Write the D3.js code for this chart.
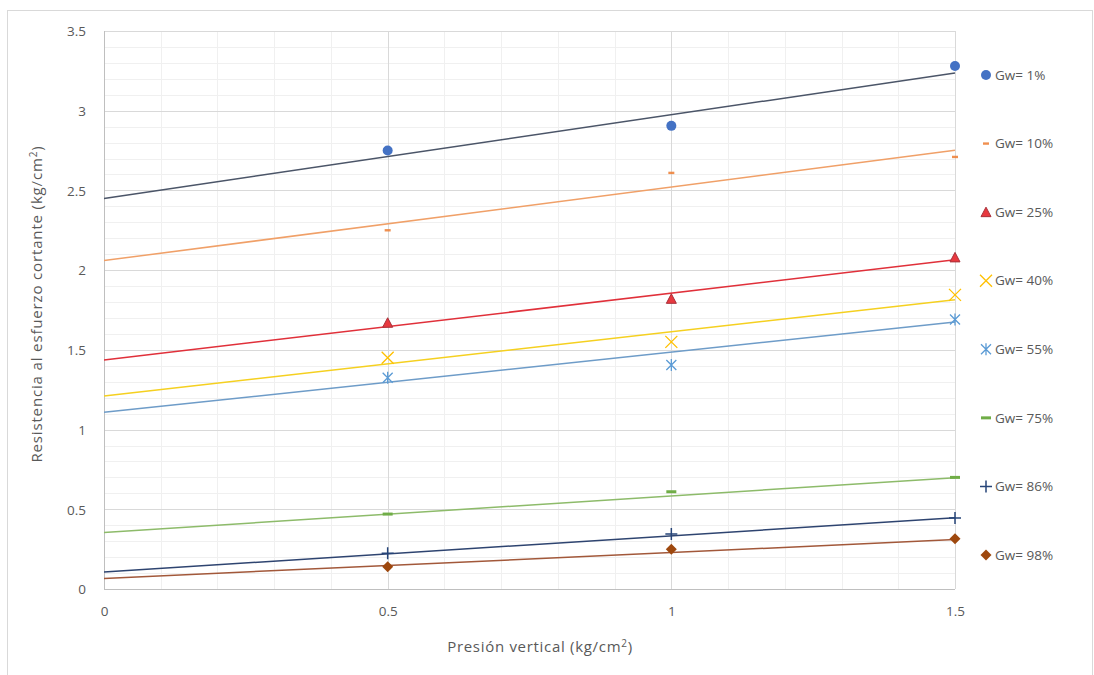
<!DOCTYPE html>
<html><head><meta charset="utf-8">
<script src="https://cdn.jsdelivr.net/npm/d3@7/dist/d3.min.js"></script>
<style>
body{margin:0;background:#fff;}
svg{display:block;}
</style></head>
<body>
<svg id="chart" width="1094" height="675"></svg>
<script>
// ---- data ----
const xValues = [0.5, 1, 1.5];
const seriesNames = ["Gw= 1%", "Gw= 10%", "Gw= 25%", "Gw= 40%", "Gw= 55%", "Gw= 75%", "Gw= 86%", "Gw= 98%"];
const gw1  = [2.75, 2.905, 3.28];
const gw10 = [2.25, 2.61, 2.71];
const gw25 = [1.67, 1.82, 2.08];
const gw40 = [1.45, 1.55, 1.845];
const gw55 = [1.325, 1.405, 1.69];
const gw75 = [0.47, 0.61, 0.70];
const gw86 = [0.225, 0.345, 0.445];
const gw98 = [0.14, 0.25, 0.315];
// trend lines (value at x=0 and at x=1.5)
const trendStart = [2.45, 2.06, 1.437, 1.21, 1.108, 0.355, 0.107, 0.066];
const trendEnd   = [3.237, 2.752, 2.065, 1.815, 1.675, 0.698, 0.447, 0.31];
const xTicks = [0, 0.5, 1, 1.5];
const yTicks = [0, 0.5, 1, 1.5, 2, 2.5, 3, 3.5];

const allSeries = [gw1, gw10, gw25, gw40, gw55, gw75, gw86, gw98];
const markerColors = ["#4472C4", "#ED7D31", "#E8393F", "#FFC000", "#5B9BD5", "#70AD47", "#264478", "#9E480E"];
const lineColors = ["#4B5568", "#F0A068", "#E0303A", "#F5D020", "#6E9CC8", "#8DBB6A", "#2E4470", "#A2583A"];
const markerTypes = ["circle", "dashS", "triangle", "x", "asterisk", "dashL", "plus", "diamond"];

const svg = d3.select("#chart");
const font = "'Open Sans', 'Noto Sans', sans-serif";
const textColor = "#595959";

// outer frame
svg.append("rect").attr("x", 7.5).attr("y", 10.5).attr("width", 1085).attr("height", 670)
  .attr("fill", "#fff").attr("stroke", "#d9d9d9");

const x = d3.scaleLinear().domain([0, 1.5]).range([104, 955]);
const y = d3.scaleLinear().domain([0, 3.5]).range([589, 31]);

// minor gridlines
const minorX = d3.range(0, 1.5001, 0.1);
const minorY = d3.range(0, 3.5001, 0.1);
const g = svg.append("g");
g.selectAll(".mx").data(minorX).enter().append("line")
  .attr("x1", d => Math.round(x(d)) + 0.5).attr("x2", d => Math.round(x(d)) + 0.5)
  .attr("y1", y(0)).attr("y2", y(3.5)).attr("stroke", "#f0f0f0");
g.selectAll(".my").data(minorY).enter().append("line")
  .attr("y1", d => Math.round(y(d)) + 0.5).attr("y2", d => Math.round(y(d)) + 0.5)
  .attr("x1", x(0)).attr("x2", x(1.5)).attr("stroke", "#f0f0f0");
// major gridlines
g.selectAll(".Mx").data(xTicks).enter().append("line")
  .attr("x1", d => Math.round(x(d)) + 0.5).attr("x2", d => Math.round(x(d)) + 0.5)
  .attr("y1", y(0)).attr("y2", y(3.5)).attr("stroke", "#d9d9d9");
g.selectAll(".My").data(yTicks).enter().append("line")
  .attr("y1", d => Math.round(y(d)) + 0.5).attr("y2", d => Math.round(y(d)) + 0.5)
  .attr("x1", x(0)).attr("x2", x(1.5)).attr("stroke", "#d9d9d9");
// axis lines
svg.append("line").attr("x1", x(0)).attr("x2", x(1.5)).attr("y1", Math.round(y(0)) + 0.5).attr("y2", Math.round(y(0)) + 0.5).attr("stroke", "#bfbfbf");
svg.append("line").attr("x1", Math.round(x(0)) + 0.5).attr("x2", Math.round(x(0)) + 0.5).attr("y1", y(0)).attr("y2", y(3.5)).attr("stroke", "#bfbfbf");

// tick labels via axes
const yAxis = d3.axisLeft(y).tickValues(yTicks).tickSize(0).tickPadding(0).tickFormat(d => String(d));
const ya = svg.append("g").attr("transform", "translate(86,0)").call(yAxis);
ya.select(".domain").remove();
ya.selectAll("text").attr("font-family", font).attr("font-size", 13.5).attr("fill", textColor).attr("dy", "0.35em");

const xAxis = d3.axisBottom(x).tickValues(xTicks).tickSize(0).tickPadding(0).tickFormat(d => String(d));
const xa = svg.append("g").attr("transform", "translate(0,606)").call(xAxis);
xa.select(".domain").remove();
xa.selectAll("text").attr("font-family", font).attr("font-size", 13.5).attr("fill", textColor);

// axis titles
const xt = svg.append("text").attr("x", 540).attr("y", 652).attr("text-anchor", "middle")
  .attr("font-family", font).attr("font-size", 15).attr("letter-spacing", 0.7).attr("fill", textColor);
xt.append("tspan").text("Presión vertical (kg/cm");
xt.append("tspan").attr("dy", -5).attr("font-size", 10).text("2");
xt.append("tspan").attr("dy", 5).text(")");

const yt = svg.append("text").attr("transform", "translate(42,304) rotate(-90)").attr("text-anchor", "middle")
  .attr("font-family", font).attr("font-size", 15).attr("letter-spacing", 0.85).attr("fill", textColor);
yt.append("tspan").text("Resistencia al esfuerzo cortante (kg/cm");
yt.append("tspan").attr("dy", -5).attr("font-size", 10).text("2");
yt.append("tspan").attr("dy", 5).text(")");

// trend lines
allSeries.forEach((s, i) => {
  svg.append("line")
    .attr("x1", x(0)).attr("y1", y(trendStart[i]))
    .attr("x2", x(1.5)).attr("y2", y(trendEnd[i]))
    .attr("stroke", lineColors[i]).attr("stroke-width", 1.5);
});

function drawMarker(sel, type, color) {
  switch (type) {
    case "circle":
      sel.append("circle").attr("r", 5).attr("fill", color); break;
    case "dashS":
      sel.append("rect").attr("x", -3).attr("y", -1.2).attr("width", 6).attr("height", 2.4).attr("fill", color).attr("opacity", 0.85); break;
    case "dashL":
      sel.append("rect").attr("x", -5).attr("y", -1.5).attr("width", 10).attr("height", 3).attr("fill", color); break;
    case "triangle":
      sel.append("path").attr("d", "M0,-5L5,4.5L-5,4.5Z").attr("fill", color).attr("stroke", "#A8303A").attr("stroke-width", 1); break;
    case "x":
      sel.append("path").attr("d", "M-6,-6L6,6M-6,6L6,-6").attr("stroke", color).attr("stroke-width", 1.3).attr("fill", "none"); break;
    case "asterisk":
      sel.append("path").attr("d", "M-5,-5L5,5M-5,5L5,-5M0,-6L0,6").attr("stroke", color).attr("stroke-width", 1.3).attr("fill", "none"); break;
    case "plus":
      sel.append("path").attr("d", "M-6,0L6,0M0,-6L0,6").attr("stroke", color).attr("stroke-width", 1.5).attr("fill", "none"); break;
    case "diamond":
      sel.append("path").attr("d", "M0,-5.5L5.5,0L0,5.5L-5.5,0Z").attr("fill", color); break;
  }
}

// markers
allSeries.forEach((s, i) => {
  s.forEach((v, j) => {
    const m = svg.append("g").attr("transform", `translate(${x(xValues[j])},${y(v)})`);
    drawMarker(m, markerTypes[i], markerColors[i]);
  });
});

// legend
const legendY = d3.scaleLinear().domain([0, 7]).range([75, 555]);
seriesNames.forEach((name, i) => {
  const ly = legendY(i);
  const m = svg.append("g").attr("transform", `translate(986,${ly})`);
  drawMarker(m, markerTypes[i], markerColors[i]);
  svg.append("text").attr("x", 995).attr("y", ly).attr("dy", "0.35em")
    .attr("font-family", font).attr("font-size", 13.5).attr("fill", textColor).text(name);
});
</script>
</body></html>
